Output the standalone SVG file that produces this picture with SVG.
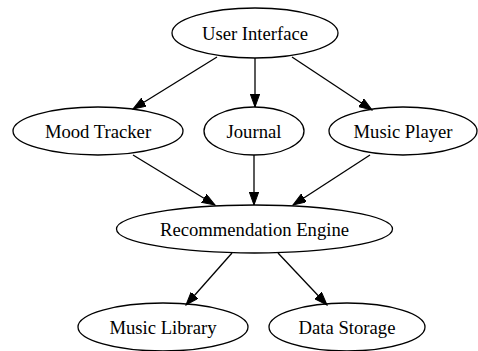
<svg xmlns="http://www.w3.org/2000/svg" width="478" height="351" viewBox="0 0 478 351">
  <style>
    .node ellipse { fill: none; stroke: #000; stroke-width: 1.3; }
    .node text { font-family: "Liberation Serif", "Times New Roman", serif; font-size: 18.67px; text-anchor: middle; fill: #000; }
    .edges line { stroke: #000; stroke-width: 1.3; marker-end: url(#arrow); }
  </style>
  <defs>
    <marker id="arrow" markerUnits="userSpaceOnUse" markerWidth="14" markerHeight="10" refX="13" refY="4.7" orient="auto">
      <path d="M0,0 L13,4.7 L0,9.4 z" fill="#000" stroke="#000" stroke-width="1"/>
    </marker>
  </defs>
  <rect width="478" height="351" fill="#fff"/>

  <g class="edges">
    <line x1="217" y1="57" x2="133" y2="109"/>
    <line x1="255" y1="58" x2="255" y2="107"/>
    <line x1="292" y1="57" x2="372" y2="110"/>
    <line x1="133" y1="155" x2="215" y2="205"/>
    <line x1="254" y1="155" x2="254" y2="205"/>
    <line x1="370" y1="155" x2="293" y2="205"/>
    <line x1="232" y1="253" x2="186" y2="305"/>
    <line x1="278" y1="253" x2="327" y2="305"/>
  </g>

  <g id="user-interface" class="node">
    <ellipse cx="255" cy="33" rx="83" ry="25"/>
    <text x="255" y="39.5">User Interface</text>
  </g>
  <g id="mood-tracker" class="node">
    <ellipse cx="98" cy="131" rx="85" ry="24"/>
    <text x="98" y="137.5">Mood Tracker</text>
  </g>
  <g id="journal" class="node">
    <ellipse cx="254" cy="131" rx="50" ry="24"/>
    <text x="254" y="137.5">Journal</text>
  </g>
  <g id="music-player" class="node">
    <ellipse cx="403" cy="131" rx="74" ry="24"/>
    <text x="403" y="137.5">Music Player</text>
  </g>
  <g id="recommendation-engine" class="node">
    <ellipse cx="254.5" cy="229" rx="138" ry="24"/>
    <text x="254.5" y="235.5">Recommendation Engine</text>
  </g>
  <g id="music-library" class="node">
    <ellipse cx="163" cy="327" rx="85" ry="24"/>
    <text x="163" y="333.5">Music Library</text>
  </g>
  <g id="data-storage" class="node">
    <ellipse cx="347" cy="327" rx="78" ry="24"/>
    <text x="347" y="333.5">Data Storage</text>
  </g>
</svg>
